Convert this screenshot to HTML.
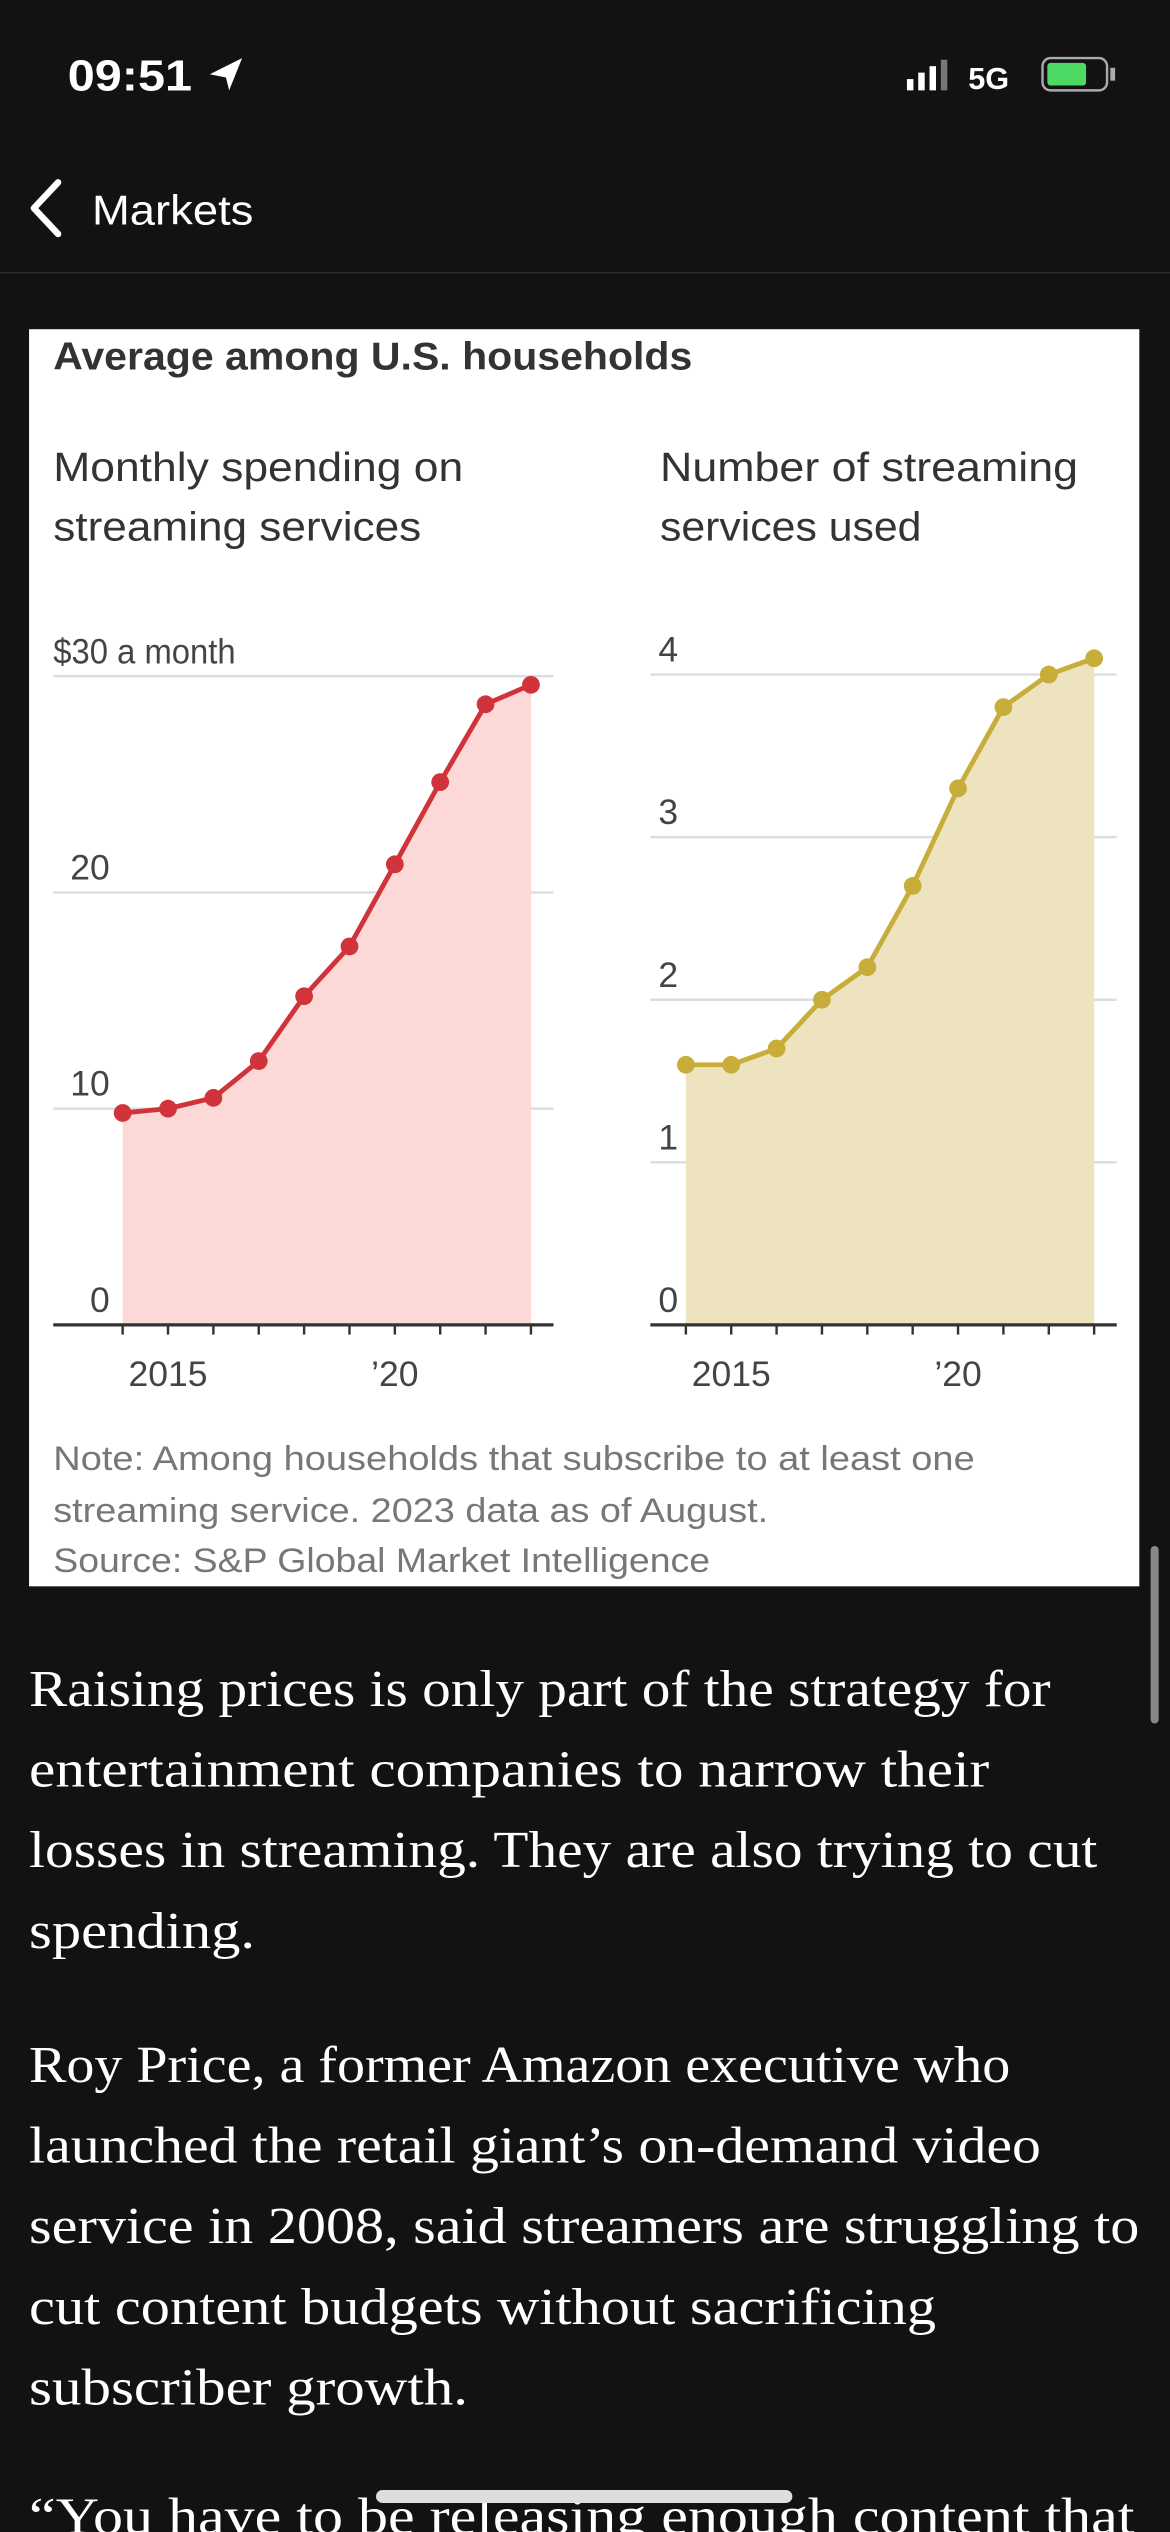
<!DOCTYPE html>
<html><head><meta charset="utf-8">
<style>
html,body{margin:0;padding:0;background:#121212;}
svg{display:block;}
.sans{font-family:"Liberation Sans",sans-serif;}
.serif{font-family:"Liberation Serif",serif;}
</style></head>
<body>
<svg id="page" width="1170" height="2532" viewBox="0 0 725 1569" xmlns="http://www.w3.org/2000/svg">
<rect width="725" height="1569" fill="#121212"/>
<g>
<text class="sans" x="42" y="56" font-size="27" font-weight="bold" fill="#fff" textLength="77" lengthAdjust="spacingAndGlyphs">09:51</text>
<path d="M130 46 L150 36 L142 56 L140 48 Z" fill="#fff"/>
<rect x="562" y="49" width="4" height="7" fill="#fff"/><rect x="569" y="45" width="4" height="11" fill="#fff"/><rect x="576" y="41" width="4" height="15" fill="#fff"/><rect x="583" y="37" width="4" height="19" fill="#777"/>
<text class="sans" x="600" y="55" font-size="19" font-weight="bold" fill="#fff">5G</text>
<rect x="646" y="36" width="40" height="20" rx="5" fill="none" stroke="#aaa" stroke-width="1.5"/>
<rect x="649" y="39" width="24" height="14" rx="2" fill="#4cd964"/>
<rect x="688" y="42" width="3" height="8" fill="#aaa"/>
</g>
<g>
<path d="M36 113 L21 129 L36 145" fill="none" stroke="#fff" stroke-width="4" stroke-linecap="round" stroke-linejoin="round"/>
<text class="sans" x="57" y="139" font-size="26" fill="#fff" textLength="100" lengthAdjust="spacingAndGlyphs">Markets</text>
<line x1="0" y1="169" x2="725" y2="169" stroke="#2a2a2a" stroke-width="1"/>
</g>
<g>
<rect x="18" y="204" width="688" height="779" fill="#fff"/>
<text class="sans" x="33" y="229" font-size="24" font-weight="bold" fill="#333" textLength="396" lengthAdjust="spacingAndGlyphs">Average among U.S. households</text>
<text class="sans" x="33" y="298" font-size="25" fill="#333" textLength="254" lengthAdjust="spacingAndGlyphs">Monthly spending on</text>
<text class="sans" x="33" y="335" font-size="25" fill="#333" textLength="228" lengthAdjust="spacingAndGlyphs">streaming services</text>
<text class="sans" x="409" y="298" font-size="25" fill="#333" textLength="259" lengthAdjust="spacingAndGlyphs">Number of streaming</text>
<text class="sans" x="409" y="335" font-size="25" fill="#333" textLength="162" lengthAdjust="spacingAndGlyphs">services used</text>
<g id="left"></g>
<g id="right"></g>
<text class="sans" x="33" y="911" font-size="21" fill="#777" textLength="571" lengthAdjust="spacingAndGlyphs">Note: Among households that subscribe to at least one</text>
<text class="sans" x="33" y="943" font-size="21" fill="#777" textLength="443" lengthAdjust="spacingAndGlyphs">streaming service. 2023 data as of August.</text>
<text class="sans" x="33" y="974" font-size="21" fill="#777" textLength="407" lengthAdjust="spacingAndGlyphs">Source: S&amp;P Global Market Intelligence</text>
</g>
<g class="serif" font-size="32" fill="#fff" lengthAdjust="spacingAndGlyphs">
<text x="18" y="1057" textLength="633" lengthAdjust="spacingAndGlyphs">Raising prices is only part of the strategy for</text>
<text x="18" y="1107" textLength="595" lengthAdjust="spacingAndGlyphs">entertainment companies to narrow their</text>
<text x="18" y="1157" textLength="662" lengthAdjust="spacingAndGlyphs">losses in streaming. They are also trying to cut</text>
<text x="18" y="1207" textLength="140" lengthAdjust="spacingAndGlyphs">spending.</text>
<text x="18" y="1290" textLength="608" lengthAdjust="spacingAndGlyphs">Roy Price, a former Amazon executive who</text>
<text x="18" y="1340" textLength="627" lengthAdjust="spacingAndGlyphs">launched the retail giant’s on-demand video</text>
<text x="18" y="1390" textLength="688" lengthAdjust="spacingAndGlyphs">service in 2008, said streamers are struggling to</text>
<text x="18" y="1440" textLength="562" lengthAdjust="spacingAndGlyphs">cut content budgets without sacrificing</text>
<text x="18" y="1490" textLength="272" lengthAdjust="spacingAndGlyphs">subscriber growth.</text>
<text x="18" y="1570" textLength="685" lengthAdjust="spacingAndGlyphs">“You have to be releasing enough content that</text>
</g>
<rect x="713" y="958" width="5" height="110" rx="2.5" fill="#888"/>
<rect x="233" y="1543" width="258" height="8" rx="4" fill="#ddd"/>
</svg>
<script>
const years = [2014,2015,2016,2017,2018,2019,2020,2021,2022,2023];
const spending = [9.8,10.0,10.5,12.2,15.2,17.5,21.3,25.1,28.7,29.6];
const servicesUsed = [1.6,1.6,1.7,2.0,2.2,2.7,3.3,3.8,4.0,4.1];
const leftTicks = [0,10,20,30];
const leftTickLabels = ["0","10","20","$30 a month"];
const rightTicks = [0,1,2,3,4];
const rightTickLabels = ["0","1","2","3","4"];
const xLabelYears = [2015,2020];
const xLabelText = ["2015","’20"];
const NS="http://www.w3.org/2000/svg";
function mk(tag,attrs,parent){const e=document.createElementNS(NS,tag);for(const k in attrs)e.setAttribute(k,attrs[k]);parent.appendChild(e);return e;}
function draw(g,cfg){
  const x=y=>cfg.x0+(y-years[0])*(cfg.x1-cfg.x0)/(years[years.length-1]-years[0]);
  const yv=v=>cfg.y0-v*(cfg.y0-cfg.yTop)/cfg.max;
  cfg.ticks.forEach((t,i)=>{
    if(t>0){const l=mk('line',{x1:cfg.gx0,x2:cfg.gx1,y1:yv(t),y2:yv(t),stroke:'#ddd','stroke-width':1.5},g);
    }
    const last=i===cfg.ticks.length-1;
    const attrs={y:yv(t)-8,'font-size':22,fill:'#444','font-family':'Liberation Sans, sans-serif'};
    if(cfg.rightAlign && !last){attrs.x=cfg.rx;attrs['text-anchor']='end';}
    else {attrs.x=cfg.lx;}
    if(cfg.rightAlign && last){attrs.textLength=113;attrs.lengthAdjust='spacingAndGlyphs';}
    const tx=mk('text',attrs,g);
    tx.textContent=cfg.tickLabels[i];
    
  });
  let d='M'+x(years[0])+' '+cfg.y0;
  years.forEach((yr,i)=>{d+=' L'+x(yr)+' '+yv(cfg.vals[i]);});
  d+=' L'+x(years[years.length-1])+' '+cfg.y0+' Z';
  const area=mk('path',{d:d,fill:cfg.fill},g);
  
  const pts=years.map((yr,i)=>x(yr)+','+yv(cfg.vals[i])).join(' ');
  const line=mk('polyline',{points:pts,fill:'none',stroke:cfg.color,'stroke-width':3},g);
  
  years.forEach((yr,i)=>{
    const c=mk('circle',{cx:x(yr),cy:yv(cfg.vals[i]),r:5.5,fill:cfg.color},g);
    
    const tk=mk('line',{x1:x(yr),x2:x(yr),y1:cfg.y0,y2:cfg.y0+6,stroke:'#333','stroke-width':1.5},g);
    
  });
  const ax=mk('line',{x1:cfg.gx0,x2:cfg.gx1,y1:cfg.y0,y2:cfg.y0,stroke:'#333','stroke-width':2},g);
  
  xLabelYears.forEach((yr,i)=>{
    const t=mk('text',{x:x(yr),y:cfg.y0+38,'font-size':22,fill:'#444','text-anchor':'middle','font-family':'Liberation Sans, sans-serif'},g);
    t.textContent=xLabelText[i];
    
  });
}
draw(document.getElementById('left'),{x0:76,x1:329,y0:821,yTop:419,max:30,gx0:33,gx1:343,lx:33,rx:68,rightAlign:true,ticks:leftTicks,tickLabels:leftTickLabels,vals:spending,color:'#d0333a',fill:'#fcd8d6'});
draw(document.getElementById('right'),{x0:425,x1:678,y0:821,yTop:418,max:4,gx0:403,gx1:692,lx:408,ticks:rightTicks,tickLabels:rightTickLabels,vals:servicesUsed,color:'#c9ad3a',fill:'#ede3bf'});
</script>
</body></html>
